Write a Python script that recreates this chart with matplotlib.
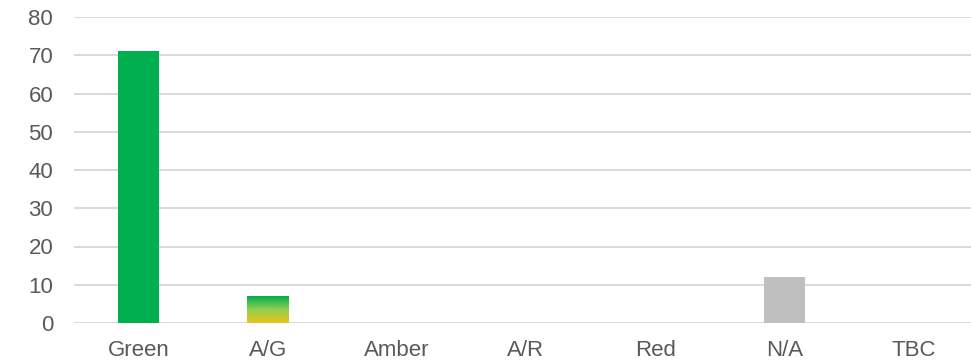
import numpy as np
import matplotlib.pyplot as plt
from matplotlib.colors import LinearSegmentedColormap

plt.rcParams['font.family'] = ['Liberation Sans', 'DejaVu Sans']

categories = ['Green', 'A/G', 'Amber', 'A/R', 'Red', 'N/A', 'TBC']
counts = [71, 7, 0, 0, 0, 12, 0]
bar_colors = ['#00B050', None, '#FFC000', '#FF8000', '#FF0000', '#BFBFBF', '#7F7F7F']
yticks = [0, 10, 20, 30, 40, 50, 60, 70, 80]

text_grey = '#595959'
grid_grey = '#D9D9D9'
bar_width = 0.32

fig = plt.figure(figsize=(9.71, 3.64), dpi=100)
# axes runs a little past the right edge of the canvas
ax = fig.add_axes([74 / 971, 41 / 364, 904 / 971, 306 / 364])

x = np.arange(len(categories))
for xi, val, col in zip(x, counts, bar_colors):
    if col is None:
        # amber/green split shown as a vertical gradient
        cmap = LinearSegmentedColormap.from_list('ag', ['#E8C21A', '#92D050', '#00B050'])
        grad = np.linspace(0, 1, 100).reshape(-1, 1)
        ax.imshow(grad, cmap=cmap, origin='lower', aspect='auto',
                  extent=(xi - bar_width / 2, xi + bar_width / 2, 0, val), zorder=3)
    elif val > 0:
        ax.bar(xi, val, width=bar_width, color=col, zorder=3)

ax.set_xlim(-0.5, len(categories) - 0.5)
ax.set_ylim(0, 80)
ax.set_yticks(yticks)
ax.set_xticks(x)
ax.set_xticklabels(categories)

ax.grid(axis='y', color=grid_grey, linewidth=1.4, zorder=0)
ax.set_axisbelow(True)
for s in ax.spines.values():
    s.set_visible(False)
ax.tick_params(axis='both', length=0, colors=text_grey, labelsize=16)
ax.tick_params(axis='y', pad=15)
ax.tick_params(axis='x', pad=12)

fig.savefig('out.png', dpi=100)
